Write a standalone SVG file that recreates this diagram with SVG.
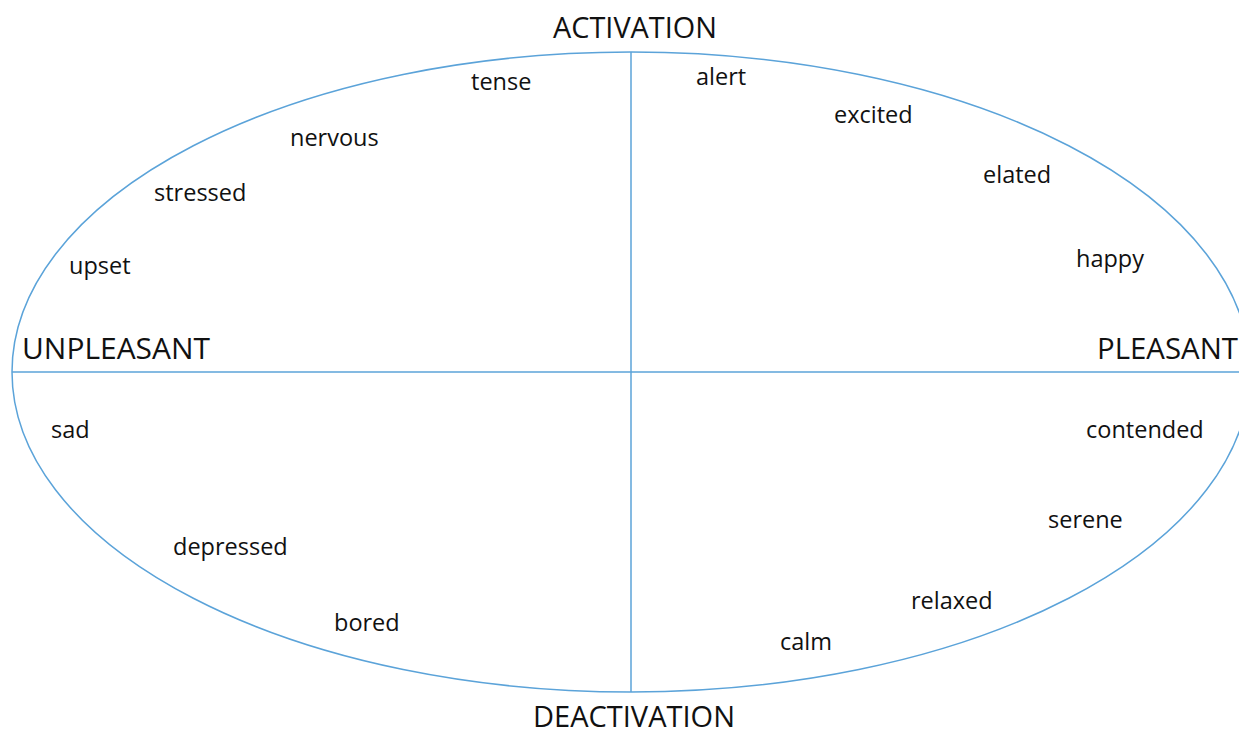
<svg xmlns="http://www.w3.org/2000/svg" width="1239" height="735" viewBox="0 0 1239 735">
<style>
.ln{fill:none;stroke:#5ba3d9;stroke-width:1.5}
.ax{font-family:"Open Sans","Liberation Sans",sans-serif;font-size:29px;fill:#111}
.lb{font-family:"Open Sans","Liberation Sans",sans-serif;font-size:23.5px;fill:#111}
</style>
<rect width="1239" height="735" fill="#fff"/>
<g id="connectors">
<ellipse class="ln" cx="631" cy="372" rx="619" ry="320"/>
<line class="ln" x1="12" y1="372" x2="1239" y2="372"/>
<line class="ln" x1="631" y1="52" x2="631" y2="692"/>
</g>
<g id="axis-activation"><text class="ax" x="553" y="38" textLength="164" lengthAdjust="spacingAndGlyphs">ACTIVATION</text></g>
<g id="axis-deactivation"><text class="ax" x="533" y="727" font-size="28" textLength="202" lengthAdjust="spacingAndGlyphs">DEACTIVATION</text></g>
<g id="axis-unpleasant"><text class="ax" x="22" y="359" textLength="188" lengthAdjust="spacingAndGlyphs">UNPLEASANT</text></g>
<g id="axis-pleasant"><text class="ax" x="1097" y="359" textLength="141" lengthAdjust="spacingAndGlyphs">PLEASANT</text></g>
<g id="tense"><text class="lb" x="471" y="90">tense</text></g>
<g id="nervous"><text class="lb" x="290" y="146">nervous</text></g>
<g id="stressed"><text class="lb" x="154" y="201">stressed</text></g>
<g id="upset"><text class="lb" x="69" y="274">upset</text></g>
<g id="alert"><text class="lb" x="696" y="85">alert</text></g>
<g id="excited"><text class="lb" x="834" y="123">excited</text></g>
<g id="elated"><text class="lb" x="983" y="183">elated</text></g>
<g id="happy"><text class="lb" x="1076" y="267">happy</text></g>
<g id="sad"><text class="lb" x="51" y="438">sad</text></g>
<g id="depressed"><text class="lb" x="173" y="555">depressed</text></g>
<g id="bored"><text class="lb" x="334" y="631">bored</text></g>
<g id="contended"><text class="lb" x="1086" y="438">contended</text></g>
<g id="serene"><text class="lb" x="1048" y="528">serene</text></g>
<g id="relaxed"><text class="lb" x="911" y="609">relaxed</text></g>
<g id="calm"><text class="lb" x="780" y="650">calm</text></g>
</svg>
